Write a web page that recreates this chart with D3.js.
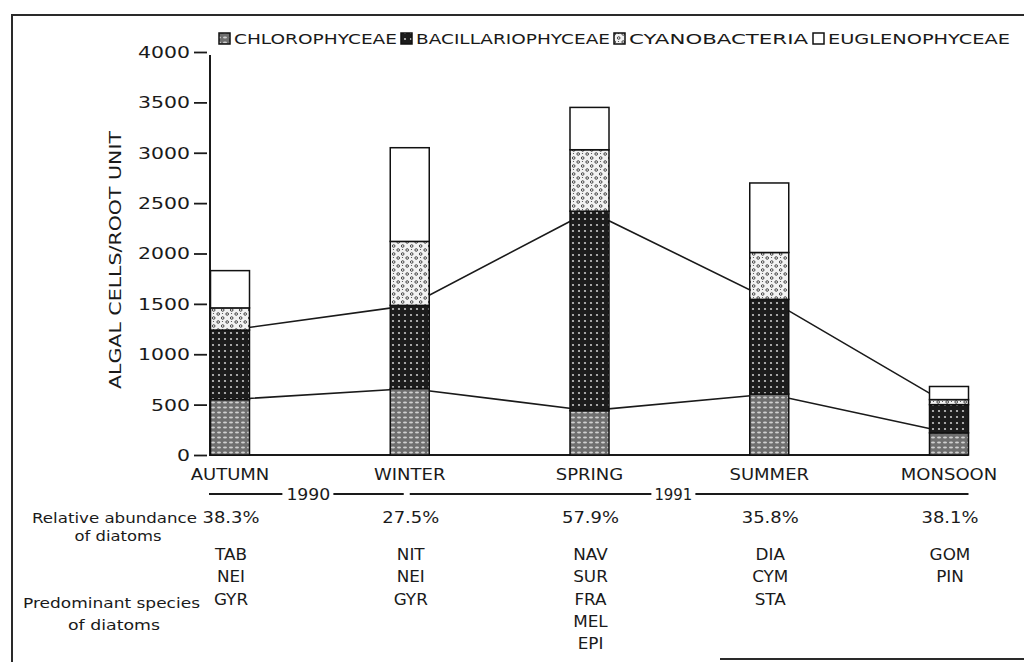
<!DOCTYPE html>
<html>
<head>
<meta charset="utf-8">
<script src="https://cdn.jsdelivr.net/npm/d3@7"></script>
<style>
  html, body { margin: 0; padding: 0; background: #fff; }
  svg { display: block; }
  text { font-family: "DejaVu Sans", sans-serif; fill: #1a1a1a; }
</style>
</head>
<body>
<div id="chart"></div>
<script>
// ---------- data ----------
const seasons = ["AUTUMN", "WINTER", "SPRING", "SUMMER", "MONSOON"];
const groups = ["CHLOROPHYCEAE", "BACILLARIOPHYCEAE", "CYANOBACTERIA", "EUGLENOPHYCEAE"];
const chlorophyceae     = [550, 660, 440, 605, 220];
const bacillariophyceae = [690, 825, 1980, 940, 280];
const cyanobacteria     = [220, 635, 610, 465, 50];
const euglenophyceae    = [370, 930, 420, 690, 130];
const yTicks = [0, 500, 1000, 1500, 2000, 2500, 3000, 3500, 4000];
const abundance = ["38.3%", "27.5%", "57.9%", "35.8%", "38.1%"];
const species = [
  ["TAB", "NEI", "GYR"],
  ["NIT", "NEI", "GYR"],
  ["NAV", "SUR", "FRA", "MEL", "EPI"],
  ["DIA", "CYM", "STA"],
  ["GOM", "PIN"]
];
const years = ["1990", "1991"];
const yTitle = "ALGAL CELLS/ROOT UNIT";

// ---------- setup ----------
const W = 1024, H = 662;
const svg = d3.select("#chart").append("svg").attr("width", W).attr("height", H);
svg.append("rect").attr("width", W).attr("height", H).attr("fill", "#fff");

const defs = svg.append("defs");
// Chlorophyceae: grey stipple
const pC = defs.append("pattern").attr("id", "pChl").attr("patternUnits", "userSpaceOnUse")
  .attr("width", 6).attr("height", 5);
pC.append("rect").attr("width", 6).attr("height", 5).attr("fill", "#6f6f6f");
pC.append("ellipse").attr("cx", 3).attr("cy", 2.5).attr("rx", 2).attr("ry", 0.9).attr("fill", "#d0d0d0");
// Bacillariophyceae: dark with white dots
const pB = defs.append("pattern").attr("id", "pBac").attr("patternUnits", "userSpaceOnUse")
  .attr("width", 6).attr("height", 6);
pB.append("rect").attr("width", 6).attr("height", 6).attr("fill", "#1c1c1c");
pB.append("circle").attr("cx", 3).attr("cy", 3).attr("r", 1.1).attr("fill", "#c8c8c8");
// Cyanobacteria: white with dotted circles
const pY = defs.append("pattern").attr("id", "pCya").attr("patternUnits", "userSpaceOnUse")
  .attr("width", 9).attr("height", 8);
pY.append("rect").attr("width", 9).attr("height", 8).attr("fill", "#f2f2f2");
pY.append("circle").attr("cx", 2.2).attr("cy", 2).attr("r", 1.3).attr("fill", "none").attr("stroke", "#333").attr("stroke-width", 0.9);
pY.append("circle").attr("cx", 6.7).attr("cy", 6).attr("r", 1.3).attr("fill", "none").attr("stroke", "#333").attr("stroke-width", 0.9);
pY.append("circle").attr("cx", 6.5).attr("cy", 1.5).attr("r", 0.6).attr("fill", "#444");
const fills = ["url(#pChl)", "url(#pBac)", "url(#pCya)", "#fff"];

const x = d3.scalePoint().domain(seasons).range([230, 949]);
const y = d3.scaleLinear().domain([0, 4000]).range([455, 52]);
const bw = 39;

const rows = seasons.map((s, i) => ({
  season: s,
  CHLOROPHYCEAE: chlorophyceae[i],
  BACILLARIOPHYCEAE: bacillariophyceae[i],
  CYANOBACTERIA: cyanobacteria[i],
  EUGLENOPHYCEAE: euglenophyceae[i]
}));
const stacked = d3.stack().keys(groups)(rows);

function stretch(sel, k) {
  sel.each(function () {
    const len = this.getComputedTextLength();
    d3.select(this).attr("textLength", len * k).attr("lengthAdjust", "spacingAndGlyphs");
  });
}
function fit(sel, w) {
  sel.attr("textLength", w).attr("lengthAdjust", "spacingAndGlyphs");
}

// ---------- frame ----------
const frame = svg.append("g").attr("stroke", "#2a2a2a").attr("stroke-width", 2);
frame.append("line").attr("x1", 12).attr("x2", 1024).attr("y1", 15).attr("y2", 15);
frame.append("line").attr("x1", 12).attr("x2", 12).attr("y1", 14).attr("y2", 662);
frame.append("line").attr("x1", 720).attr("x2", 1024).attr("y1", 659).attr("y2", 659);

// ---------- axes ----------
const yAxis = svg.append("g").attr("transform", "translate(207,0)")
  .call(d3.axisLeft(y).tickValues(yTicks).tickFormat(d3.format("d")).tickSize(13).tickPadding(4));
yAxis.select(".domain").remove();
yAxis.selectAll(".tick line").attr("stroke", "#1a1a1a").attr("stroke-width", 1.8);
yAxis.selectAll(".tick text").attr("font-size", 15).attr("font-family", "DejaVu Sans").attr("fill", "#1a1a1a")
  .attr("dy", "0.36em");
yAxis.selectAll(".tick text").each(function (d) {
  fit(d3.select(this), String(d).length * 13);
});

svg.append("line").attr("x1", 210).attr("x2", 210).attr("y1", y(4000) + 3).attr("y2", y(0))
  .attr("stroke", "#1a1a1a").attr("stroke-width", 2);
svg.append("line").attr("x1", 209).attr("x2", x("MONSOON") + bw / 2).attr("y1", y(0)).attr("y2", y(0))
  .attr("stroke", "#1a1a1a").attr("stroke-width", 2);

svg.append("text").attr("transform", "translate(121,260) rotate(-90)")
  .attr("text-anchor", "middle").attr("font-size", 15).text(yTitle)
  .call(fit, 258);

// ---------- connecting lines (under bars) ----------
const lineGen = d3.line().x(d => x(d.data.season)).y(d => y(d[1]));
[0, 1].forEach(k => {
  svg.append("path").datum(stacked[k]).attr("d", lineGen)
    .attr("fill", "none").attr("stroke", "#1a1a1a").attr("stroke-width", 1.6);
});

// ---------- bars ----------
stacked.forEach((layer, k) => {
  svg.append("g").selectAll("rect").data(layer).join("rect")
    .attr("x", d => x(d.data.season) - bw / 2)
    .attr("y", d => y(d[1]))
    .attr("width", bw)
    .attr("height", d => y(d[0]) - y(d[1]))
    .attr("fill", fills[k])
    .attr("stroke", "#111").attr("stroke-width", 1.5);
});

// ---------- legend ----------
const legX = [219, 401, 614, 813];
const legW = [163, 194, 179, 182];
groups.forEach((g, k) => {
  svg.append("rect").attr("x", legX[k]).attr("y", 33).attr("width", 11).attr("height", 11)
    .attr("fill", k === 3 ? "#fff" : fills[k]).attr("stroke", "#111").attr("stroke-width", 1.5);
  svg.append("text").attr("x", legX[k] + 15).attr("y", 44).attr("font-size", 14).text(g)
    .call(fit, legW[k]);
});

// ---------- category labels ----------
svg.append("g").selectAll("text").data(seasons).join("text")
  .attr("x", d => x(d)).attr("y", 480).attr("text-anchor", "middle").attr("font-size", 15)
  .text(d => d).call(stretch, 1.2);

// ---------- year lines ----------
const yrY = 494;
const x0 = 209, xSplit = x("WINTER") - 2, xEnd = x("MONSOON") + bw / 2;
const yrMid = [(x0 + xSplit) / 2, (x("SPRING") + x("SUMMER")) / 2 - 6];
const yrHalf = [24, 21];
const yrG = svg.append("g").attr("stroke", "#1a1a1a").attr("stroke-width", 2);
yrG.append("line").attr("x1", x0).attr("x2", yrMid[0] - yrHalf[0] - 2).attr("y1", yrY).attr("y2", yrY);
yrG.append("line").attr("x1", yrMid[0] + yrHalf[0] + 1).attr("x2", xSplit - 4).attr("y1", yrY).attr("y2", yrY);
yrG.append("line").attr("x1", xSplit + 2).attr("x2", yrMid[1] - yrHalf[1] - 1).attr("y1", yrY).attr("y2", yrY);
yrG.append("line").attr("x1", yrMid[1] + yrHalf[1] + 1).attr("x2", xEnd).attr("y1", yrY).attr("y2", yrY);
years.forEach((yr, i) => {
  svg.append("text").attr("x", yrMid[i]).attr("y", yrY + 6).attr("text-anchor", "middle")
    .attr("font-size", 15).text(yr).call(fit, yrHalf[i] * 2 - 4);
});

// ---------- table ----------
svg.append("text").attr("x", 197).attr("y", 523).attr("text-anchor", "end").attr("font-size", 14)
  .text("Relative abundance").call(fit, 165);
svg.append("text").attr("x", 118).attr("y", 541).attr("text-anchor", "middle").attr("font-size", 14)
  .text("of diatoms").call(fit, 87);
svg.append("text").attr("x", 200).attr("y", 608).attr("text-anchor", "end").attr("font-size", 14)
  .text("Predominant species").call(fit, 177);
svg.append("text").attr("x", 114).attr("y", 630).attr("text-anchor", "middle").attr("font-size", 14)
  .text("of diatoms").call(fit, 92);

svg.append("g").selectAll("text").data(abundance).join("text")
  .attr("x", (d, i) => x(seasons[i]) + 1).attr("y", 523).attr("text-anchor", "middle")
  .attr("font-size", 15).text(d => d).call(fit, 57);

species.forEach((list, i) => {
  svg.append("g").selectAll("text").data(list).join("text")
    .attr("x", x(seasons[i]) + 1).attr("y", (d, j) => 560 + j * 22.3)
    .attr("text-anchor", "middle").attr("font-size", 15).text(d => d).call(stretch, 1.12);
});
</script>
</body>
</html>
